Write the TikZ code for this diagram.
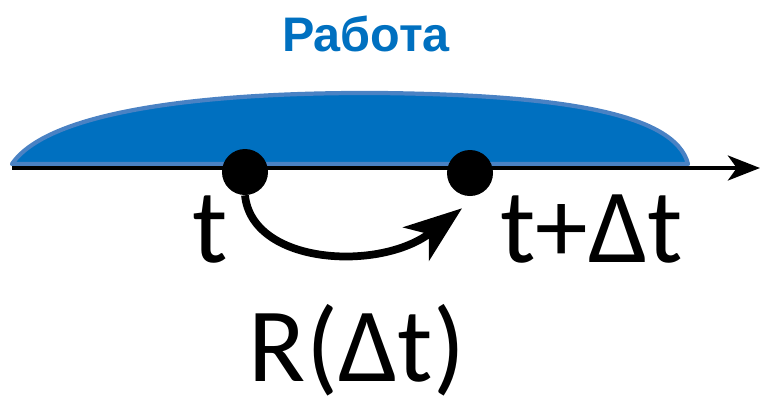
\documentclass[tikz,border=0pt]{standalone}
\usepackage{fontspec}
\setmainfont{Carlito}
\newfontfamily\titulofont{Liberation Sans}
\usetikzlibrary{arrows.meta}
\usetikzlibrary{calc}
\definecolor{figAzul}{RGB}{0,112,192}
\definecolor{figAzulBorde}{RGB}{74,130,196}
\tikzset{
  punto/.style={circle, fill=black, draw=none, minimum size=1.15cm, inner sep=0pt},
  etiqueta/.style={anchor=base, inner sep=0pt, font=\fontsize{75}{80}\selectfont},
  titulo/.style={anchor=base, inner sep=0pt, text=figAzul,
    font=\titulofont\bfseries\fontsize{34.5}{38}\selectfont},
  eje/.style={line width=3.4pt, -{Stealth[length=0.8cm, width=0.62cm, inset=0.22cm]}},
  flecha/.style={line width=5.5pt, -{Stealth[length=1.45cm, width=1.05cm, inset=0.4cm]}},
  zona/.style={fill=figAzul, draw=figAzulBorde, line width=3pt, line join=round}
}
\begin{document}
\begin{tikzpicture}[x=0.025cm, y=-0.025cm]
  \useasboundingbox (0,0) rectangle (761,397);
  % zona azul sobre el eje
  \draw[zona] (12,164) .. controls (50,108) and (220,92) .. (380,93)
    .. controls (560,95) and (675,113) .. (688,164) -- cycle;
  % eje
  \coordinate (ejeI) at (12,168);
  \coordinate (ejeD) at (760,168);
  \draw[eje] (ejeI) -- (ejeD);
  \node[titulo] (trab) at (366,51) {Работа};
  % instantes
  \node[punto] (p1) at (245,172) {};
  \node[punto] (p2) at (470,173) {};
  \node[etiqueta] (l1) at (210,262) {t};
  \node[etiqueta] (l2) at (592,262) {t+Δt};
  \node[etiqueta] (l3) at (357,381) {R(Δt)};
  \draw[flecha] (p1.south) .. controls (252,265) and (380,272) .. ([shift={(-8,12)}]p2.south);
\end{tikzpicture}
\end{document}
